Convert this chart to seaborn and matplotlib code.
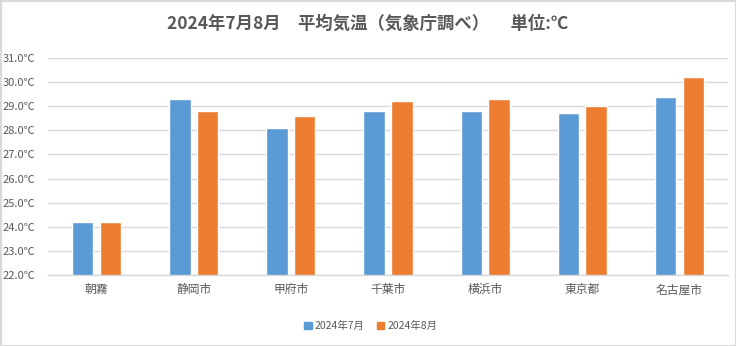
import matplotlib
matplotlib.use("Agg")
import matplotlib.pyplot as plt
from matplotlib.patches import Rectangle
import seaborn as sns
import pandas as pd

# Monthly mean temperatures (°C)
stations = ["朝霧", "静岡市", "甲府市", "千葉市", "横浜市", "東京都", "名古屋市"]
july = [24.2, 29.3, 28.1, 28.8, 28.8, 28.7, 29.4]
august = [24.2, 28.8, 28.6, 29.2, 29.3, 29.0, 30.2]
series_names = ["2024年7月", "2024年8月"]
y_ticks = [22.0, 23.0, 24.0, 25.0, 26.0, 27.0, 28.0, 29.0, 30.0, 31.0]

df = pd.DataFrame({
    "地点": stations * 2,
    "気温": july + august,
    "月": [series_names[0]] * len(stations) + [series_names[1]] * len(stations),
})

sns.set_theme(style="white")
plt.rcParams["font.family"] = ["Noto Sans CJK JP", "DejaVu Sans"]

fig = plt.figure(figsize=(7.36, 3.46), dpi=100)
ax = fig.add_axes([48 / 736, 71 / 346, 680 / 736, 217 / 346])

palette = {series_names[0]: "#5B9BD5", series_names[1]: "#ED7D31"}
sns.barplot(data=df, x="地点", y="気温", hue="月", palette=palette,
            width=0.57, gap=0.23, ax=ax, legend=False, saturation=1)

ax.set_ylim(22, 31)
ax.set_yticks(y_ticks)
ax.set_yticklabels([f"{v:.1f}℃" for v in y_ticks], fontsize=8, color="#595959")
ax.tick_params(axis="x", labelsize=8.5, colors="#595959", length=0, pad=6)
ax.tick_params(axis="y", length=0, pad=9)
ax.set_xlabel("")
ax.set_ylabel("")
ax.set_xlim(-0.5, len(stations) - 0.5)
ax.yaxis.grid(True, color="#D9D9D9", linewidth=1)
ax.set_axisbelow(True)
for side in ["left", "right", "top"]:
    ax.spines[side].set_visible(False)
ax.spines["bottom"].set_color("#D9D9D9")
ax.spines["bottom"].set_linewidth(1)

fig.text(368 / 736, 1 - 24 / 346, "2024年7月8月　平均気温（気象庁調べ）　 単位:℃",
         ha="center", va="center", fontsize=12.5, fontweight="bold", color="#595959")

handles = [Rectangle((0, 0), 1, 1, color=palette[n]) for n in series_names]
fig.legend(handles, series_names, loc="center", bbox_to_anchor=(371 / 736, 1 - 326 / 346),
           ncol=2, frameon=False, fontsize=7.5, handlelength=0.7, handleheight=0.7,
           handletextpad=0.3, columnspacing=1.2, labelcolor="#595959")

fig.patches.append(Rectangle((0.5 / 736, 0.5 / 346), 735 / 736, 345 / 346,
                             transform=fig.transFigure, fill=False,
                             edgecolor="#D9D9D9", linewidth=1.5))

fig.savefig("out.png", dpi=100)
